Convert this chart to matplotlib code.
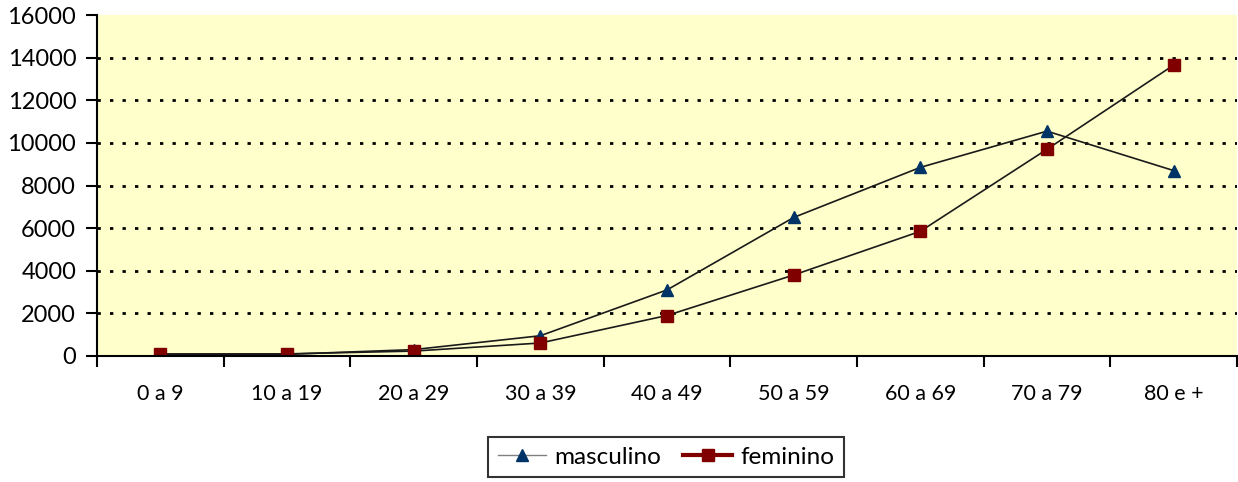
import numpy as np
import matplotlib.pyplot as plt
from matplotlib.lines import Line2D

plt.rcParams['font.family'] = ['Lato', 'DejaVu Sans']

faixas = ['0 a 9', '10 a 19', '20 a 29', '30 a 39', '40 a 49',
          '50 a 59', '60 a 69', '70 a 79', '80 e +']
masculino = [50, 80, 300, 950, 3100, 6500, 8850, 10550, 8700]
feminino = [100, 100, 230, 610, 1900, 3800, 5850, 9700, 13650]

fig = plt.figure(figsize=(12.38, 4.82), dpi=100)
ax = fig.add_axes([97 / 1238, 1 - 356 / 482, 1 - 98 / 1238, (356 - 15) / 482])
ax.set_facecolor('#FFFFCC')

x = np.arange(len(faixas))
ax.plot(x, masculino, color='#1a1a1a', lw=1.2, marker='^', ms=9,
        mfc='#003366', mec='#003366', zorder=3)
ax.plot(x, feminino, color='#1a1a1a', lw=1.2, marker='s', ms=9,
        mfc='#800000', mec='#800000', zorder=3)

ax.set_xlim(-0.5, len(faixas) - 0.5)
ax.set_ylim(0, 16000)
ax.set_yticks(np.arange(0, 16001, 2000))
ax.set_xticks(x)
ax.set_xticklabels(faixas)
ax.set_xticks(np.arange(-0.5, len(faixas), 1), minor=True)
ax.tick_params(axis='x', which='major', length=0, pad=20, labelsize=15.5)
ax.tick_params(axis='x', which='minor', length=8, width=1.5, direction='out')
ax.tick_params(axis='y', length=8, width=1.5, direction='out', labelsize=17, pad=7)

for y in range(2000, 16000, 2000):
    ax.axhline(y, color='black', lw=2, ls=(0, (1.2, 3.3)), zorder=1)

for s in ['top', 'right']:
    ax.spines[s].set_visible(False)
for s in ['left', 'bottom']:
    ax.spines[s].set_linewidth(1.5)
    ax.spines[s].set_zorder(4)

handles = [
    Line2D([], [], color='gray', lw=1, marker='^', ms=8, mfc='#003366', mec='#003366'),
    Line2D([], [], color='#800000', lw=3, marker='s', ms=9, mfc='#800000', mec='#800000'),
]
leg = fig.legend(handles, ['masculino', 'feminino'], loc='upper center',
                 bbox_to_anchor=(666 / 1238, 1 - 437 / 482), ncol=2,
                 fontsize=17.5, frameon=True, fancybox=False, edgecolor='black',
                 handlelength=2.0, columnspacing=0.9, handletextpad=0.35,
                 borderpad=0.4, borderaxespad=0)
leg.get_frame().set_linewidth(1.5)

fig.savefig('out.png', dpi=100)
